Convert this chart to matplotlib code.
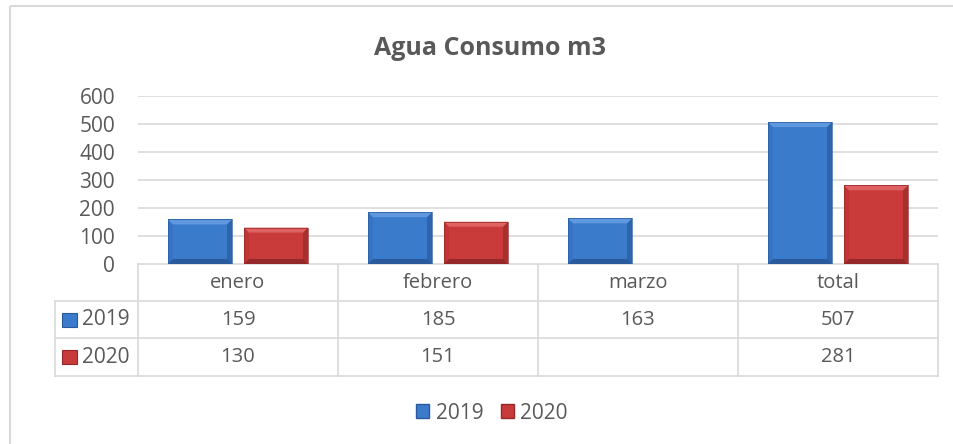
"""Agua Consumo m3 -- Excel-style clustered column chart with a data table below."""
import matplotlib.pyplot as plt
from matplotlib.patches import Polygon, Rectangle, Patch

categories = ["enero", "febrero", "marzo", "total"]
series_names = ["2019", "2020"]
values_2019 = [159, 185, 163, 507]
values_2020 = [130, 151, None, 281]

plt.rcParams["font.family"] = ["Open Sans", "DejaVu Sans"]
TXT = "#595959"
GRID = "#D9D9D9"
STYLE = {
    "2019": dict(face="#3B7BCB", top="#5F98DE", left="#3574C4", right="#2D64AE", bottom="#2A5A9C"),
    "2020": dict(face="#C93A3A", top="#DE6262", left="#C33535", right="#A92E2E", bottom="#952828"),
}

W, H = 954, 444
fig = plt.figure(figsize=(W / 100, H / 100), dpi=100)

# plot area in pixels
X0, X1, Y0, Y1 = 138, 938, 264, 96
ax = fig.add_axes([X0 / W, 1 - Y0 / H, (X1 - X0) / W, (Y0 - Y1) / H])
ax.set_xlim(-0.5, len(categories) - 0.5)
ax.set_ylim(0, 600)
ax.set_yticks(range(0, 601, 100))
ax.yaxis.grid(True, color=GRID, lw=1.2)
ax.set_axisbelow(True)
ax.set_xticks([])
for s in ax.spines.values():
    s.set_visible(False)
ax.tick_params(axis="y", length=0, pad=16.5, labelsize=15, labelcolor=TXT)

BW = 0.32
OFF = 0.19
bev_x = 5 / 200.0                 # bevel width in data units (x)
bev_y = 5 / ((Y0 - Y1) / 600.0)   # bevel height in data units (y)


def bevel_bar(x, h, st):
    l, r = x - BW / 2, x + BW / 2
    ax.add_patch(Rectangle((l, 0), BW, h, fc=st["face"], ec="none", zorder=3))
    bx, by = bev_x, min(bev_y, h / 3)
    ax.add_patch(Polygon([(l, 0), (l, h), (l + bx, h - by), (l + bx, by)],
                         closed=True, fc=st["left"], ec="none", zorder=4))
    ax.add_patch(Polygon([(r, 0), (r, h), (r - bx, h - by), (r - bx, by)],
                         closed=True, fc=st["right"], ec="none", zorder=4))
    ax.add_patch(Polygon([(l, 0), (r, 0), (r - bx, by), (l + bx, by)],
                         closed=True, fc=st["bottom"], ec="none", zorder=4))
    ax.add_patch(Polygon([(l, h), (r, h), (r - bx, h - by), (l + bx, h - by)],
                         closed=True, fc=st["top"], ec="none", zorder=4))
    ax.add_patch(Rectangle((l, 0), BW, h, fc="none", ec=st["bottom"], lw=0.5, zorder=5))


for i in range(len(categories)):
    for name, vals, off in (("2019", values_2019, -OFF), ("2020", values_2020, OFF)):
        if vals[i] is not None:
            bevel_bar(i + off, vals[i], STYLE[name])

# overlay in pixel coordinates for the table, title, frame and legend
ov = fig.add_axes([0, 0, 1, 1], zorder=-1)
ov.set_xlim(0, W)
ov.set_ylim(H, 0)
ov.axis("off")
ov.add_patch(Rectangle((10, 6), 960, 460, fc="none", ec=GRID, lw=1.5))

ov.text(490, 55, "Agua Consumo m3", ha="center", va="baseline",
        fontsize=18, fontweight="bold", color=TXT)

# data table
col_w = (X1 - X0) / len(categories)
rows_y = [264, 301, 338, 376]
LX = 55
ov.plot([X0, X1], [rows_y[0]] * 2, color=GRID, lw=1.2)
for y in rows_y[1:]:
    ov.plot([LX, X1], [y, y], color=GRID, lw=1.2)
for k in range(len(categories) + 1):
    ov.plot([X0 + k * col_w] * 2, [rows_y[0], rows_y[-1]], color=GRID, lw=1.2)
ov.plot([LX, LX], [rows_y[1], rows_y[-1]], color=GRID, lw=1.2)

for k, cat in enumerate(categories):
    cx = X0 + (k + 0.5) * col_w
    ov.text(cx, (rows_y[0] + rows_y[1]) / 2, cat, ha="center", va="center",
            fontsize=14.5, color=TXT)
    for r, vals in enumerate((values_2019, values_2020)):
        if vals[k] is not None:
            ov.text(cx, (rows_y[r + 1] + rows_y[r + 2]) / 2, str(vals[k]),
                    ha="center", va="center", fontsize=14.5, color=TXT)

for r, name in enumerate(series_names):
    cy = (rows_y[r + 1] + rows_y[r + 2]) / 2
    ov.add_patch(Rectangle((62, cy - 7), 15, 14, fc=STYLE[name]["face"],
                           ec=STYLE[name]["bottom"], lw=0.8))
    ov.text(82, cy, name, ha="left", va="center", fontsize=15, color=TXT)

handles = [Patch(fc=STYLE[n]["face"], ec=STYLE[n]["bottom"], label=n) for n in series_names]
fig.legend(handles=handles, loc="center", bbox_to_anchor=(492 / W, 1 - 413 / H),
           ncol=2, frameon=False, fontsize=15, labelcolor=TXT,
           handlelength=0.62, handleheight=0.62, handletextpad=0.3,
           columnspacing=0.85, borderpad=0, borderaxespad=0)

fig.savefig("out.png", dpi=100)
